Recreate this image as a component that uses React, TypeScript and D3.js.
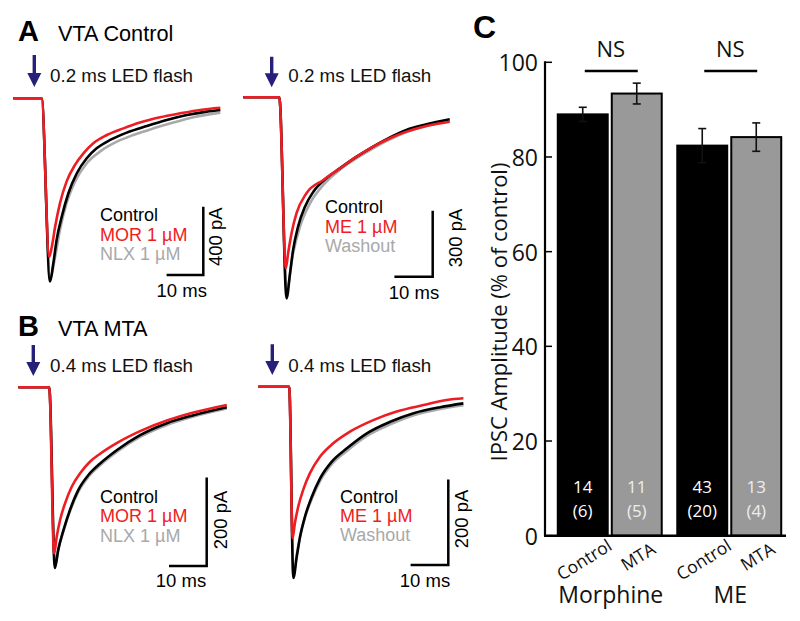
import React from "react";
import * as d3 from "d3";

type Pt = [number, number];

// ---------- Trace data (time in ms, current in pA) ----------
const A1_control: Pt[] = [[0,0],[7.7,0],[10.0,-1073],[10.9,-966],[11.8,-829],[13.2,-693],[15.0,-556],[17.3,-439],[20.0,-351],[22.7,-293],[26.4,-244],[30.9,-201],[36.4,-162],[41.8,-127],[47.3,-98],[52.7,-78],[56.4,-68]];
const A1_drug: Pt[] = [[0,0],[7.7,0],[9.8,-927],[10.5,-868],[11.4,-751],[12.7,-615],[14.5,-488],[16.8,-390],[19.1,-322],[21.8,-263],[25.5,-215],[30.0,-176],[34.5,-142],[40.0,-111],[45.5,-88],[50.9,-68],[56.4,-55]];
const A1_wash: Pt[] = [[0,0],[7.7,0],[10.0,-1054],[11.4,-927],[12.7,-771],[14.5,-615],[16.8,-488],[20.0,-380],[23.6,-312],[28.2,-254],[32.7,-215],[38.2,-176],[43.6,-142],[49.1,-111],[56.4,-84]];

const A2_control: Pt[] = [[0,0],[9.4,0],[11.3,-914],[12.2,-800],[13.0,-694],[14.3,-588],[16.1,-497],[18.3,-429],[21.7,-368],[25.2,-323],[29.6,-270],[33.9,-224],[38.3,-182],[42.6,-148],[47.8,-123],[53.9,-100]];
const A2_drug: Pt[] = [[0,0],[9.4,0],[11.1,-777],[11.7,-709],[12.6,-618],[13.9,-527],[16.5,-436],[20.9,-376],[25.2,-323],[29.6,-270],[33.9,-224],[38.3,-186],[42.6,-156],[47.8,-130],[53.9,-111]];
const A2_wash: Pt[] = [[0,0],[9.4,0],[11.3,-876],[13.0,-709],[14.8,-588],[17.4,-482],[20.9,-398],[25.2,-330],[29.6,-277],[33.9,-232],[38.3,-191],[42.6,-158],[47.8,-130],[53.9,-106]];

const B1_control: Pt[] = [[0,0],[8.2,0],[9.7,-408],[10.6,-367],[12.0,-322],[13.7,-277],[15.9,-232],[18.6,-198],[21.7,-172],[26.1,-142],[32.3,-108],[39.4,-81],[46.5,-63],[55.3,-45]];
const B1_drug: Pt[] = [[0,0],[8.2,0],[9.5,-375],[10.2,-337],[11.1,-299],[12.4,-262],[14.2,-224],[16.4,-194],[19.0,-168],[21.7,-150],[26.1,-126],[32.3,-99],[39.4,-75],[46.5,-57],[55.3,-40]];
const B1_wash: Pt[] = [[0,0],[8.2,0],[9.7,-400],[10.6,-365],[12.0,-324],[13.7,-280],[15.9,-236],[18.6,-202],[21.7,-176],[26.1,-146],[32.3,-112],[39.4,-85],[46.5,-66],[55.3,-48]];

const B2_control: Pt[] = [[0,0],[8.2,0],[9.3,-447],[10.2,-397],[11.1,-350],[12.4,-303],[14.2,-257],[16.4,-214],[19.5,-175],[23.5,-144],[28.8,-109],[35.0,-82],[41.2,-62],[48.2,-48],[54.4,-39]];
const B2_drug: Pt[] = [[0,0],[8.2,0],[9.1,-354],[9.7,-319],[10.6,-280],[11.9,-241],[13.7,-202],[16.4,-163],[19.9,-132],[24.3,-105],[30.5,-78],[36.7,-58],[43.8,-43],[50.0,-31],[54.4,-27]];
const B2_wash: Pt[] = [[0,0],[8.2,0],[9.3,-440],[10.2,-392],[11.1,-348],[12.4,-305],[14.2,-262],[16.4,-220],[19.5,-181],[23.5,-150],[28.8,-115],[35.0,-88],[41.2,-67],[48.2,-52],[54.4,-43]];

const morLegend = ["Control", "MOR 1 \u00b5M", "NLX 1 \u00b5M"];
const meLegend = ["Control", "ME 1 \u00b5M", "Washout"];
const scaleBarPA = [400, 300, 200, 200];
const scaleBarMs = 10;
const flashLabels = ["0.2 ms LED flash", "0.2 ms LED flash", "0.4 ms LED flash", "0.4 ms LED flash"];

// ---------- Bar chart data ----------
const groups = ["Morphine", "ME"];
const conditions = ["Control", "MTA"];
const amplitude = [[89.0, 93.4], [82.4, 84.2]];
const sem = [[1.5, 2.2], [3.6, 3.0]];
const nCells = [["14", "11"], ["43", "13"]];
const nAnimals = [["(6)", "(5)"], ["(20)", "(4)"]];
const yTicks = [0, 20, 40, 60, 80, 100];

const RED = "#ee1d23";
const GRAY = "#a9a9a9";
const NAVY = "#26207a";
const ARIAL = "'Liberation Sans', Arial, sans-serif";
const OPEN = "'Open Sans', 'Noto Sans', sans-serif";

type PanelCfg = {
  x0: number; base: number; msPx: number; paPx: number;
  control: Pt[]; drug: Pt[]; wash: Pt[];
  legend: string[]; pa: number; flash: string;
  arrowX: number; arrowTop: number; arrowTip: number;
  flashX: number; flashY: number;
  legendX: number; legendY: number[];
  corner: [number, number]; paLabel: [number, number]; msLabel: [number, number];
};

const panels: PanelCfg[] = [
  { x0: 13.33, base: 98.3, msPx: 3.67, paPx: 0.1708, control: A1_control, drug: A1_drug, wash: A1_wash,
    legend: morLegend, pa: scaleBarPA[0], flash: flashLabels[0],
    arrowX: 34.3, arrowTop: 55, arrowTip: 87, flashX: 50, flashY: 82,
    legendX: 100, legendY: [221, 240.5, 260], corner: [203.3, 275], paLabel: [222, 236.7], msLabel: [181.7, 296.7] },
  { x0: 243.3, base: 97.3, msPx: 3.83, paPx: 0.22, control: A2_control, drug: A2_drug, wash: A2_wash,
    legend: meLegend, pa: scaleBarPA[1], flash: flashLabels[1],
    arrowX: 271.7, arrowTop: 56.7, arrowTip: 87.3, flashX: 288.3, flashY: 82,
    legendX: 325, legendY: [213.3, 232.5, 252], corner: [432.7, 276.7], paLabel: [461.5, 238], msLabel: [414, 299] },
  { x0: 18.3, base: 387.3, msPx: 3.77, paPx: 0.443, control: B1_control, drug: B1_drug, wash: B1_wash,
    legend: morLegend, pa: scaleBarPA[2], flash: flashLabels[2],
    arrowX: 33.3, arrowTop: 345, arrowTip: 376, flashX: 50, flashY: 371.7,
    legendX: 100, legendY: [502.7, 522.3, 541.7], corner: [206.7, 566], paLabel: [227, 520], msLabel: [181, 586.7] },
  { x0: 258.3, base: 386.7, msPx: 3.77, paPx: 0.428, control: B2_control, drug: B2_drug, wash: B2_wash,
    legend: meLegend, pa: scaleBarPA[3], flash: flashLabels[3],
    arrowX: 272.3, arrowTop: 344.3, arrowTip: 375, flashX: 288.3, flashY: 371.7,
    legendX: 340, legendY: [502.7, 522, 540.5], corner: [448.3, 565], paLabel: [468, 519], msLabel: [425, 586.7] },
];

function TracePanel({ p }: { p: PanelCfg }) {
  const x = d3.scaleLinear().domain([0, 60]).range([p.x0, p.x0 + 60 * p.msPx]);
  const y = d3.scaleLinear().domain([-1200, 0]).range([p.base + 1200 * p.paPx, p.base]);
  const line = d3.line<Pt>().x(d => x(d[0])).y(d => y(d[1])).curve(d3.curveMonotoneX);
  const vLen = y(-p.pa) - y(0);
  const hLen = x(scaleBarMs) - x(0);
  const [cx, cy] = p.corner;
  const hw = 7, headH = 14, shaft = 1.7;
  const arrow = `M${p.arrowX - shaft},${p.arrowTop} L${p.arrowX + shaft},${p.arrowTop} L${p.arrowX + shaft},${p.arrowTip - headH} L${p.arrowX + hw},${p.arrowTip - headH} L${p.arrowX},${p.arrowTip} L${p.arrowX - hw},${p.arrowTip - headH} L${p.arrowX - shaft},${p.arrowTip - headH} Z`;
  const legendColors = ["#000", RED, GRAY];
  return (
    <g>
      <path d={arrow} fill={NAVY} />
      <text x={p.flashX} y={p.flashY} fontFamily={ARIAL} fontSize={18.8} fill="#111">{p.flash}</text>
      <path d={line(p.wash) || ""} fill="none" stroke={GRAY} strokeWidth={2.6} strokeLinejoin="round" />
      <path d={line(p.control) || ""} fill="none" stroke="#000" strokeWidth={2.6} strokeLinejoin="round" />
      <path d={line(p.drug) || ""} fill="none" stroke={RED} strokeWidth={2.6} strokeLinejoin="round" />
      {p.legend.map((t, i) => (
        <text key={i} x={p.legendX} y={p.legendY[i]} fontFamily={ARIAL} fontSize={18} fill={legendColors[i]}>{t}</text>
      ))}
      <path d={`M${cx},${cy - vLen} L${cx},${cy} L${cx - hLen},${cy}`} fill="none" stroke="#000" strokeWidth={2.5} />
      <text transform={`translate(${p.paLabel[0]},${p.paLabel[1]}) rotate(-90)`} textAnchor="middle" fontFamily={ARIAL} fontSize={18.5}>{`${p.pa} pA`}</text>
      <text x={p.msLabel[0]} y={p.msLabel[1]} textAnchor="middle" fontFamily={ARIAL} fontSize={18.5}>{`${scaleBarMs} ms`}</text>
    </g>
  );
}

function BarPanel() {
  const y = d3.scaleLinear().domain([0, 100]).range([535.7, 62.3]);
  const gx = d3.scaleBand<string>().domain(groups).range([550, 789]).paddingInner(0.13).paddingOuter(0.065);
  const cxs = d3.scaleBand<string>().domain(conditions).range([0, gx.bandwidth()]).paddingInner(0.075);
  const axisX = 545;
  return (
    <g>
      {groups.map((g, gi) => (
        <g key={g}>
          {conditions.map((c, ci) => {
            const bx = (gx(g) || 0) + (cxs(c) || 0);
            const bw = cxs.bandwidth();
            const v = amplitude[gi][ci];
            const e = sem[gi][ci];
            const mid = bx + bw / 2;
            const fill = ci === 0 ? "#000" : "#999999";
            const txt = ci === 0 ? "#ffffff" : "#eeeeee";
            return (
              <g key={c}>
                <rect x={bx} y={y(v)} width={bw} height={y(0) - y(v)} fill={fill} stroke="#000" strokeWidth={2} />
                <line x1={mid} x2={mid} y1={y(v - e)} y2={y(v + e)} stroke="#111" strokeWidth={1.6} />
                <line x1={mid - 4} x2={mid + 4} y1={y(v + e)} y2={y(v + e)} stroke="#111" strokeWidth={1.6} />
                <line x1={mid - 4} x2={mid + 4} y1={y(v - e)} y2={y(v - e)} stroke="#111" strokeWidth={1.6} />
                <text x={mid} y={493} textAnchor="middle" fontFamily={OPEN} fontSize={17} fill={txt}>{nCells[gi][ci]}</text>
                <text x={mid} y={517} textAnchor="middle" fontFamily={OPEN} fontSize={17} fill={txt}>{nAnimals[gi][ci]}</text>
                <text transform={`translate(${mid + 1},${ci === 0 ? 559 : 556}) rotate(-32)`} textAnchor="middle" dominantBaseline="central" fontFamily={OPEN} fontSize={17.5} fill="#111">{c}</text>
              </g>
            );
          })}
          <line x1={(gx(g) || 0) + 27} x2={(gx(g) || 0) + gx.bandwidth() - 24} y1={71} y2={71} stroke="#000" strokeWidth={2.6} />
          <text x={(gx(g) || 0) + gx.bandwidth() / 2 + 1} y={57} textAnchor="middle" fontFamily={OPEN} fontSize={22} fill="#111">NS</text>
          <text x={(gx(g) || 0) + gx.bandwidth() / 2 + 1} y={603} textAnchor="middle" fontFamily={OPEN} fontSize={23} fill="#111">{g}</text>
        </g>
      ))}
      <line x1={axisX} x2={axisX} y1={y(100) - 1} y2={y(0)} stroke="#000" strokeWidth={2.2} />
      <line x1={axisX - 1} x2={786} y1={y(0)} y2={y(0)} stroke="#000" strokeWidth={2.4} />
      {yTicks.map(t => (
        <g key={t}>
          <line x1={axisX} x2={axisX + 7} y1={y(t)} y2={y(t)} stroke="#000" strokeWidth={1.5} />
          <text x={538} y={y(t)} textAnchor="end" dominantBaseline="central" fontFamily={OPEN} fontSize={23} fill="#111">{t}</text>
        </g>
      ))}
      <text transform={`translate(498,312) rotate(-90)`} textAnchor="middle" dominantBaseline="central" fontFamily={OPEN} fontSize={22} fill="#111">IPSC Amplitude (% of control)</text>
      <text x={473} y={38} fontFamily={ARIAL} fontWeight="bold" fontSize={32}>C</text>
    </g>
  );
}

export default function App() {
  return (
    <svg width={800} height={621} style={{ position: "absolute", left: 0, top: 0, background: "#fff" }}>
      <rect width={800} height={621} fill="#fff" />
      <text x={18} y={41} fontFamily={ARIAL} fontWeight="bold" fontSize={29}>A</text>
      <text x={58} y={41} fontFamily={ARIAL} fontSize={21.7}>VTA Control</text>
      <text x={18} y={335.7} fontFamily={ARIAL} fontWeight="bold" fontSize={29}>B</text>
      <text x={58} y={335.7} fontFamily={ARIAL} fontSize={21.7}>VTA MTA</text>
      {panels.map((p, i) => <TracePanel key={i} p={p} />)}
      <BarPanel />
    </svg>
  );
}
